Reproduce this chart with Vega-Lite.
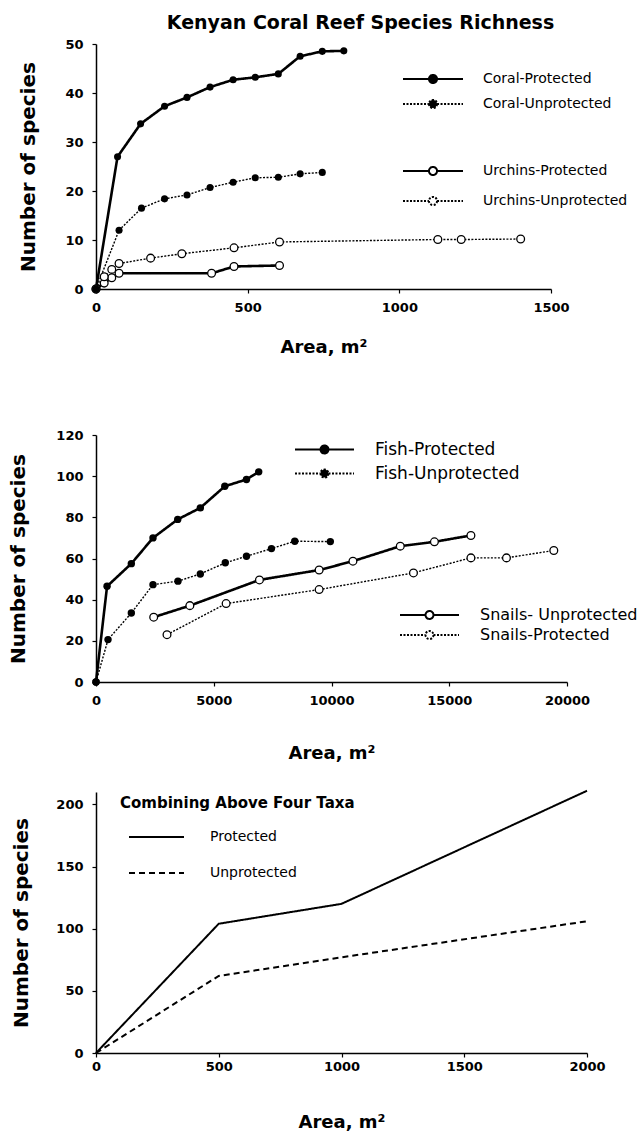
{
  "$schema": "https://vega.github.io/schema/vega-lite/v6.json",
  "background": "white",
  "padding": {"left": 8, "top": 14, "right": 5, "bottom": 0},
  "datasets": {
    "top": [
      {"series": "Coral-Protected", "area": 0, "species": 0},
      {"series": "Coral-Protected", "area": 71, "species": 27},
      {"series": "Coral-Protected", "area": 147, "species": 33.7},
      {"series": "Coral-Protected", "area": 226, "species": 37.3},
      {"series": "Coral-Protected", "area": 300, "species": 39.1},
      {"series": "Coral-Protected", "area": 376, "species": 41.2},
      {"series": "Coral-Protected", "area": 452, "species": 42.7},
      {"series": "Coral-Protected", "area": 525, "species": 43.2},
      {"series": "Coral-Protected", "area": 601, "species": 43.9},
      {"series": "Coral-Protected", "area": 673, "species": 47.5},
      {"series": "Coral-Protected", "area": 746, "species": 48.5},
      {"series": "Coral-Protected", "area": 817, "species": 48.6},
      {"series": "Coral-Unprotected", "area": 0, "species": 0},
      {"series": "Coral-Unprotected", "area": 76, "species": 12},
      {"series": "Coral-Unprotected", "area": 150, "species": 16.5},
      {"series": "Coral-Unprotected", "area": 226, "species": 18.4},
      {"series": "Coral-Unprotected", "area": 300, "species": 19.2},
      {"series": "Coral-Unprotected", "area": 376, "species": 20.7},
      {"series": "Coral-Unprotected", "area": 452, "species": 21.8},
      {"series": "Coral-Unprotected", "area": 525, "species": 22.7},
      {"series": "Coral-Unprotected", "area": 601, "species": 22.8},
      {"series": "Coral-Unprotected", "area": 673, "species": 23.5},
      {"series": "Coral-Unprotected", "area": 746, "species": 23.8},
      {"series": "Urchins-Protected", "area": 0, "species": 0},
      {"series": "Urchins-Protected", "area": 27, "species": 1.2},
      {"series": "Urchins-Protected", "area": 52, "species": 2.3},
      {"series": "Urchins-Protected", "area": 76, "species": 3.2},
      {"series": "Urchins-Protected", "area": 381, "species": 3.2},
      {"series": "Urchins-Protected", "area": 455, "species": 4.6},
      {"series": "Urchins-Protected", "area": 605, "species": 4.8},
      {"series": "Urchins-Unprotected", "area": 0, "species": 0},
      {"series": "Urchins-Unprotected", "area": 27, "species": 2.5},
      {"series": "Urchins-Unprotected", "area": 52, "species": 4},
      {"series": "Urchins-Unprotected", "area": 76, "species": 5.2},
      {"series": "Urchins-Unprotected", "area": 180, "species": 6.3},
      {"series": "Urchins-Unprotected", "area": 283, "species": 7.2},
      {"series": "Urchins-Unprotected", "area": 455, "species": 8.4},
      {"series": "Urchins-Unprotected", "area": 605, "species": 9.6},
      {"series": "Urchins-Unprotected", "area": 1127, "species": 10.1},
      {"series": "Urchins-Unprotected", "area": 1204, "species": 10.1},
      {"series": "Urchins-Unprotected", "area": 1400, "species": 10.2}
    ],
    "mid": [
      {"series": "Fish-Protected", "area": 0, "species": 0},
      {"series": "Fish-Protected", "area": 470, "species": 46.5},
      {"series": "Fish-Protected", "area": 1500, "species": 57.5},
      {"series": "Fish-Protected", "area": 2420, "species": 70},
      {"series": "Fish-Protected", "area": 3470, "species": 79},
      {"series": "Fish-Protected", "area": 4430, "species": 84.6},
      {"series": "Fish-Protected", "area": 5470, "species": 95.1},
      {"series": "Fish-Protected", "area": 6390, "species": 98.4},
      {"series": "Fish-Protected", "area": 6910, "species": 102.1},
      {"series": "Fish-Unprotected", "area": 0, "species": 0},
      {"series": "Fish-Unprotected", "area": 510, "species": 20.6},
      {"series": "Fish-Unprotected", "area": 1500, "species": 33.5},
      {"series": "Fish-Unprotected", "area": 2420, "species": 47.3},
      {"series": "Fish-Unprotected", "area": 3480, "species": 49},
      {"series": "Fish-Unprotected", "area": 4430, "species": 52.5},
      {"series": "Fish-Unprotected", "area": 5490, "species": 57.9},
      {"series": "Fish-Unprotected", "area": 6390, "species": 61.1},
      {"series": "Fish-Unprotected", "area": 7450, "species": 64.8},
      {"series": "Fish-Unprotected", "area": 8440, "species": 68.4},
      {"series": "Fish-Unprotected", "area": 9950, "species": 68.2},
      {"series": "Snails- Unprotected", "area": 2450, "species": 31.5},
      {"series": "Snails- Unprotected", "area": 3985, "species": 37.1},
      {"series": "Snails- Unprotected", "area": 6940, "species": 49.6},
      {"series": "Snails- Unprotected", "area": 9475, "species": 54.4},
      {"series": "Snails- Unprotected", "area": 10910, "species": 58.7},
      {"series": "Snails- Unprotected", "area": 12920, "species": 66},
      {"series": "Snails- Unprotected", "area": 14370, "species": 68.1},
      {"series": "Snails- Unprotected", "area": 15920, "species": 71.2},
      {"series": "Snails-Protected", "area": 3015, "species": 23},
      {"series": "Snails-Protected", "area": 5525, "species": 38.1},
      {"series": "Snails-Protected", "area": 9475, "species": 44.9},
      {"series": "Snails-Protected", "area": 13480, "species": 53},
      {"series": "Snails-Protected", "area": 15920, "species": 60.3},
      {"series": "Snails-Protected", "area": 17430, "species": 60.3},
      {"series": "Snails-Protected", "area": 19440, "species": 63.9}
    ],
    "bot": [
      {"series": "Protected", "area": 0, "species": 0},
      {"series": "Protected", "area": 500, "species": 104},
      {"series": "Protected", "area": 1000, "species": 120},
      {"series": "Protected", "area": 2000, "species": 211},
      {"series": "Unprotected", "area": 0, "species": 0},
      {"series": "Unprotected", "area": 500, "species": 62},
      {"series": "Unprotected", "area": 1000, "species": 77},
      {"series": "Unprotected", "area": 2000, "species": 106}
    ]
  },
  "spacing": 73,
  "resolve": {"scale": {"strokeDash": "independent"}, "legend": {"strokeDash": "independent"}},
  "vconcat": [
    {
      "width": 455,
      "height": 245,
      "title": {"text": "Kenyan Coral Reef Species Richness", "anchor": "middle", "dx": 37, "offset": 5, "font": "DejaVu Sans", "fontSize": 19, "fontWeight": "bold", "color": "black"},
      "data": {"name": "top"},
      "encoding": {
        "x": {"field": "area", "type": "quantitative", "scale": {"domain": [0, 1500], "nice": false, "zero": true},
              "axis": {"values": [0, 500, 1000, 1500], "format": "d", "title": "Area, m²", "titlePadding": 24, "labelPadding": 8}},
        "y": {"field": "species", "type": "quantitative", "scale": {"domain": [0, 50], "nice": false},
              "axis": {"values": [0, 10, 20, 30, 40, 50], "title": "Number of species", "titlePadding": 26}}
      },
      "layer": [
        {
          "transform": [{"filter": "indexof(datum.series, 'Coral') >= 0"}],
          "mark": {"type": "line", "color": "black", "clip": false},
          "encoding": {
            "strokeDash": {"field": "series", "type": "nominal",
              "scale": {"domain": ["Coral-Protected", "Coral-Unprotected"], "range": [[1, 0], [2, 1.5]]},
              "legend": {"orient": "none", "legendX": 306, "legendY": 28, "title": null, "rowPadding": 11, "labelOffset": 19, "labelFontSize": 14, "symbolSize": 3600, "clipHeight": 14,
                "symbolType": "M-1,0L-0.135,0M0.135,0L1,0M0.135,0A0.135,0.135,0,1,1,-0.135,0A0.135,0.135,0,1,1,0.135,0Z",
                "symbolStrokeWidth": 2, "symbolStrokeColor": "black",
                "encode": {"symbols": {"update": {"fill": {"value": "black"}, "stroke": {"value": "black"}, "opacity": {"value": 1}}}}}},
            "strokeWidth": {"condition": {"test": "datum.series === 'Coral-Unprotected'", "value": 1.4}, "value": 2.6}
          }
        },
        {
          "transform": [{"filter": "indexof(datum.series, 'Urchins') >= 0"}],
          "mark": {"type": "line", "color": "black", "clip": false},
          "encoding": {
            "strokeDash": {"field": "series", "type": "nominal",
              "scale": {"domain": ["Urchins-Protected", "Urchins-Unprotected"], "range": [[1, 0], [2, 1.5]]},
              "legend": {"orient": "none", "legendX": 306, "legendY": 120, "title": null, "rowPadding": 16, "labelOffset": 19, "labelFontSize": 14, "symbolSize": 3600, "clipHeight": 14,
                "symbolType": "M-1,0L-0.135,0M0.135,0L1,0M0.135,0A0.135,0.135,0,1,1,-0.135,0A0.135,0.135,0,1,1,0.135,0Z",
                "symbolStrokeWidth": 2, "symbolStrokeColor": "black",
                "encode": {"symbols": {"update": {"fill": {"value": "white"}, "stroke": {"value": "black"}, "opacity": {"value": 1}}}}}},
            "strokeWidth": {"condition": {"test": "datum.series === 'Urchins-Unprotected'", "value": 1.4}, "value": 2.6}
          }
        },
        {
          "transform": [{"filter": "indexof(datum.series, 'Urchins') >= 0"}],
          "mark": {"type": "point", "shape": "circle", "filled": true, "fill": "white", "stroke": "black", "strokeWidth": 1.3, "size": 60, "opacity": 1, "clip": false}
        },
        {
          "transform": [{"filter": "indexof(datum.series, 'Coral') >= 0"}],
          "mark": {"type": "point", "shape": "circle", "filled": true, "color": "black", "size": 50, "opacity": 1, "clip": false}
        }
      ],
      "resolve": {"scale": {"strokeDash": "independent"}, "legend": {"strokeDash": "independent"}}
    },
    {
      "spacing": 24,
      "resolve": {"scale": {"strokeDash": "independent"}, "legend": {"strokeDash": "independent"}},
      "vconcat": [
        {
          "width": 471,
          "height": 247,
          "data": {"name": "mid"},
          "encoding": {
            "x": {"field": "area", "type": "quantitative", "scale": {"domain": [0, 20000], "nice": false},
                  "axis": {"values": [0, 5000, 10000, 15000, 20000], "format": "d", "title": "Area, m²", "titlePadding": 37, "labelPadding": 8}},
            "y": {"field": "species", "type": "quantitative", "scale": {"domain": [0, 120], "nice": false},
                  "axis": {"values": [0, 20, 40, 60, 80, 100, 120], "title": "Number of species", "titlePadding": 27}}
          },
          "layer": [
            {
              "transform": [{"filter": "indexof(datum.series, 'Fish') >= 0"}],
              "mark": {"type": "line", "color": "black", "clip": false},
              "encoding": {
                "strokeDash": {"field": "series", "type": "nominal",
                  "scale": {"domain": ["Fish-Protected", "Fish-Unprotected"], "range": [[1, 0], [2, 1.5]]},
                  "legend": {"orient": "none", "legendX": 198, "legendY": 6, "title": null, "rowPadding": 6, "labelOffset": 20, "labelFontSize": 17, "symbolSize": 3481, "clipHeight": 17,
                    "symbolType": "M-1,0L-0.135,0M0.135,0L1,0M0.135,0A0.135,0.135,0,1,1,-0.135,0A0.135,0.135,0,1,1,0.135,0Z",
                    "symbolStrokeWidth": 2, "symbolStrokeColor": "black",
                    "encode": {"symbols": {"update": {"fill": {"value": "black"}, "stroke": {"value": "black"}, "opacity": {"value": 1}}}}}},
                "strokeWidth": {"condition": {"test": "datum.series === 'Fish-Unprotected'", "value": 1.4}, "value": 2.6}
              }
            },
            {
              "transform": [{"filter": "indexof(datum.series, 'Snails') >= 0"}],
              "mark": {"type": "line", "color": "black", "clip": false},
              "encoding": {
                "strokeDash": {"field": "series", "type": "nominal",
                  "scale": {"domain": ["Snails- Unprotected", "Snails-Protected"], "range": [[1, 0], [2, 1.5]]},
                  "legend": {"orient": "none", "legendX": 303, "legendY": 172, "title": null, "rowPadding": 4, "labelOffset": 20, "labelFontSize": 16, "symbolSize": 3481, "clipHeight": 16,
                    "symbolType": "M-1,0L-0.135,0M0.135,0L1,0M0.135,0A0.135,0.135,0,1,1,-0.135,0A0.135,0.135,0,1,1,0.135,0Z",
                    "symbolStrokeWidth": 2, "symbolStrokeColor": "black",
                    "encode": {"symbols": {"update": {"fill": {"value": "white"}, "stroke": {"value": "black"}, "opacity": {"value": 1}}}}}},
                "strokeWidth": {"condition": {"test": "datum.series === 'Snails-Protected'", "value": 1.4}, "value": 2.6}
              }
            },
            {
              "transform": [{"filter": "indexof(datum.series, 'Snails') >= 0"}],
              "mark": {"type": "point", "shape": "circle", "filled": true, "fill": "white", "stroke": "black", "strokeWidth": 1.3, "size": 60, "opacity": 1, "clip": false}
            },
            {
              "transform": [{"filter": "indexof(datum.series, 'Fish') >= 0"}],
              "mark": {"type": "point", "shape": "circle", "filled": true, "color": "black", "size": 55, "opacity": 1, "clip": false}
            }
          ],
          "resolve": {"scale": {"strokeDash": "independent"}, "legend": {"strokeDash": "independent"}}
        },
        {
          "width": 491,
          "height": 261,
          "data": {"name": "bot"},
          "mark": {"type": "line", "color": "black", "strokeWidth": 2, "clip": false},
          "encoding": {
            "x": {"field": "area", "type": "quantitative", "scale": {"domain": [0, 2000], "nice": false},
                  "axis": {"values": [0, 500, 1000, 1500, 2000], "format": "d", "title": "Area, m²", "titlePadding": 40, "labelPadding": 3}},
            "y": {"field": "species", "type": "quantitative", "scale": {"domain": [0, 210], "nice": false},
                  "axis": {"values": [0, 50, 100, 150, 200], "title": "Number of species", "titlePadding": 24}},
            "strokeDash": {"field": "series", "type": "nominal",
              "scale": {"domain": ["Protected", "Unprotected"], "range": [[1, 0], [6, 4]]},
              "legend": {"orient": "none", "legendX": 24, "legendY": 4, "title": "Combining Above Four Taxa", "titleFont": "DejaVu Sans", "titleFontSize": 15, "titleFontWeight": "bold", "titleColor": "black", "titlePadding": 19, "titleLimit": 400,
                "rowPadding": 22, "labelOffset": 25, "labelFontSize": 14, "symbolType": "stroke", "symbolSize": 3025, "symbolOffset": 8, "clipHeight": 14,
                "symbolStrokeWidth": 2, "symbolStrokeColor": "black"}}
          }
        }
      ]
    }
  ],
  "config": {
    "font": "DejaVu Sans",
    "view": {"stroke": null},
    "axis": {
      "grid": false,
      "domainColor": "black",
      "domainWidth": 1.5,
      "tickColor": "black",
      "tickWidth": 1.2,
      "tickSize": 4,
      "labelFont": "DejaVu Sans",
      "labelFontWeight": "bold",
      "labelFontSize": 13,
      "labelColor": "black",
      "labelPadding": 9,
      "labelFlush": false,
      "labelOverlap": false,
      "titleFont": "DejaVu Sans",
      "titleFontWeight": "bold",
      "titleColor": "black"
    },
    "axisX": {"titleFontSize": 18},
    "axisY": {"titleFontSize": 20},
    "legend": {
      "padding": 0,
      "labelFont": "DejaVu Sans",
      "labelColor": "black",
      "labelFontWeight": "normal",
      "labelLimit": 400
    }
  }
}
